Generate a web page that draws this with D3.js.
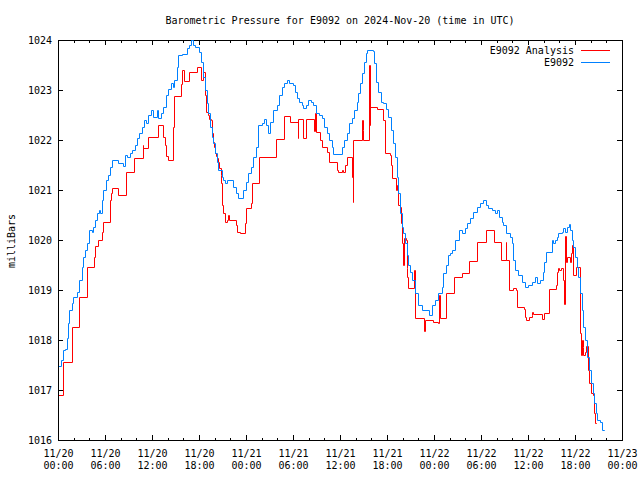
<!DOCTYPE html>
<html><head><meta charset="utf-8">
<script src="https://cdn.jsdelivr.net/npm/d3@7"></script>
<style>
body{margin:0;background:#fff}
svg{display:block}
text{font-family:"DejaVu Sans Mono","Liberation Mono",monospace;font-size:10px;fill:#000}
</style></head>
<body><svg id="c" width="640" height="480"></svg>
<script>
// ---- data (hours since 2024-11-20 00:00 UTC, pressure in mb) ----
const stationHours = [0.17,0.34,0.60,0.93,1.11,1.31,1.44,1.75,1.95,2.39,2.72,3.03,3.23,3.45,3.66,4.00,4.30,4.51,4.72,5.02,5.27,5.36,5.58,5.78,6.09,6.42,6.64,6.86,7.70,8.34,8.55,8.85,9.19,9.41,9.83,10.12,10.38,10.69,10.98,11.23,11.53,11.83,12.17,12.60,12.80,13.11,13.44,13.79,14.08,14.39,14.64,14.85,15.15,15.36,15.79,16.51,16.76,16.98,17.20,17.49,18.04,18.22,18.55,18.77,18.98,19.19,19.40,19.62,19.83,20.04,20.26,20.46,20.90,21.10,21.32,21.54,22.38,22.72,23.02,23.58,24.00,24.29,24.60,24.93,25.28,25.57,26.00,26.30,26.55,26.85,27.06,27.49,27.92,28.25,28.56,28.85,29.20,29.53,30.04,30.26,30.47,30.80,31.11,31.31,31.66,31.95,32.26,32.59,32.94,33.36,33.66,33.96,34.30,34.63,34.94,35.14,36.22,36.51,36.86,37.19,37.49,37.79,38.13,38.34,38.55,38.77,39.06,39.32,39.48,40.17,40.38,40.60,40.89,41.20,41.53,41.87,42.17,42.47,42.80,43.02,43.24,43.44,43.66,43.88,44.08,44.30,44.51,44.72,44.94,45.23,45.57,46.00,46.43,47.40,47.71,48.13,48.55,48.98,49.19,49.49,49.75,50.04,50.26,50.68,51.23,51.54,51.96,52.25,52.60,53.02,53.45,53.87,54.29,54.64,54.93,55.37,55.79,56.01,56.34,56.64,56.85,57.19,57.70,57.92,58.12,58.34,58.76,59.20,59.62,60.04,60.47,60.89,61.19,61.53,61.88,62.08,62.30,63.03,63.23,63.45,63.66,63.87,64.30,64.51,64.72,64.94,65.23,65.36,65.58,65.78,66.00,66.22,66.42,66.64,66.85,67.06,67.28,67.57,67.83,68.01,68.26,68.46,68.68,68.85,69.19,69.41,69.70];
const stationValues = [1017.48,1017.60,1017.80,1017.82,1018.04,1018.34,1018.60,1018.74,1018.86,1018.96,1019.20,1019.46,1019.66,1019.80,1019.94,1020.20,1020.16,1020.26,1020.40,1020.54,1020.60,1020.54,1020.80,1021.00,1021.20,1021.30,1021.46,1021.60,1021.54,1021.48,1021.70,1021.66,1021.74,1021.80,1021.90,1022.04,1022.14,1022.26,1022.40,1022.34,1022.50,1022.60,1022.46,1022.60,1022.44,1022.54,1022.66,1022.90,1023.02,1023.14,1023.06,1023.20,1023.46,1023.70,1023.72,1023.84,1023.90,1024.00,1023.90,1023.86,1023.76,1023.56,1023.26,1023.00,1022.74,1022.54,1022.26,1022.06,1021.94,1021.74,1021.56,1021.40,1021.26,1021.20,1021.14,1021.20,1021.06,1020.94,1020.84,1021.00,1021.16,1021.34,1021.46,1021.66,1021.86,1022.30,1022.34,1022.42,1022.30,1022.14,1022.36,1022.60,1022.70,1022.90,1023.06,1023.14,1023.20,1023.14,1023.10,1022.96,1022.84,1022.76,1022.70,1022.64,1022.70,1022.80,1022.76,1022.70,1022.54,1022.50,1022.44,1022.26,1022.14,1022.00,1021.86,1021.72,1021.86,1022.00,1022.14,1022.34,1022.44,1022.60,1022.76,1022.94,1023.14,1023.34,1023.56,1023.74,1023.80,1023.78,1023.54,1023.16,1022.96,1022.76,1022.74,1022.62,1022.46,1022.20,1021.94,1021.66,1021.26,1020.94,1020.54,1020.26,1020.14,1019.94,1019.70,1019.50,1019.36,1019.20,1018.94,1018.70,1018.60,1018.50,1018.70,1018.80,1018.94,1019.06,1019.34,1019.50,1019.70,1019.74,1019.80,1020.00,1020.20,1020.14,1020.24,1020.34,1020.44,1020.56,1020.66,1020.74,1020.80,1020.70,1020.64,1020.60,1020.54,1020.60,1020.46,1020.36,1020.30,1020.14,1020.06,1019.94,1019.60,1019.40,1019.30,1019.16,1019.06,1019.10,1019.16,1019.26,1019.14,1019.20,1019.36,1019.56,1019.76,1020.00,1019.94,1020.00,1020.06,1020.14,1020.16,1020.24,1020.16,1020.26,1020.32,1020.20,1020.00,1019.86,1019.66,1019.46,1019.26,1018.94,1018.60,1018.26,1018.00,1017.66,1017.40,1017.14,1016.94,1016.74,1016.54,1016.40,1016.36,1016.20,1016.20];

const analysisHours = [0.17,0.68,1.75,2.72,3.66,4.63,4.72,5.14,5.58,5.78,6.64,6.77,6.86,7.70,8.68,9.74,10.81,10.89,11.53,12.80,13.37,13.66,13.79,14.08,14.72,14.81,15.66,15.79,16.09,16.76,17.78,18.22,18.55,18.77,18.86,19.19,19.32,19.49,19.62,19.75,19.91,20.04,20.17,20.34,20.46,20.59,20.77,20.81,20.90,21.10,21.32,21.54,21.74,21.87,22.72,22.81,23.23,23.87,24.00,24.60,24.73,25.66,27.79,28.85,29.62,30.59,30.68,31.24,31.62,32.68,32.81,32.94,33.45,33.66,34.30,34.63,35.58,35.78,36.22,36.42,36.64,36.86,37.57,37.62,37.70,38.81,38.90,38.98,39.70,39.79,39.87,40.76,41.53,41.75,42.38,42.51,42.60,43.11,43.24,43.37,43.44,43.66,43.79,43.88,44.00,44.17,44.43,44.51,44.59,44.72,45.49,45.62,46.72,46.85,47.91,48.55,48.68,48.77,49.57,50.55,51.61,52.53,53.55,54.64,55.66,56.51,57.13,57.23,57.61,58.05,58.47,58.64,59.49,59.62,59.74,60.17,60.47,60.55,60.68,61.75,62.08,62.64,63.57,63.66,63.87,64.00,64.17,64.51,64.60,64.72,64.85,65.02,65.36,65.45,65.58,65.78,66.13,66.64,66.72,66.85,66.98,67.06,67.28,67.40,67.70,67.83,68.01,68.26,68.43,68.56,68.68];
const analysisValues = [1016.90,1017.56,1018.26,1018.86,1019.46,1019.66,1019.88,1020.00,1020.16,1020.36,1020.80,1020.94,1021.04,1020.90,1021.36,1021.64,1021.90,1021.84,1022.06,1022.30,1022.06,1021.90,1021.68,1021.60,1022.26,1022.88,1023.12,1023.40,1023.18,1023.36,1023.46,1023.20,1023.36,1022.90,1022.56,1022.50,1022.42,1022.40,1022.14,1021.96,1021.86,1021.74,1021.68,1021.64,1021.56,1021.44,1021.30,1021.14,1020.70,1020.54,1020.36,1020.40,1020.50,1020.40,1020.30,1020.16,1020.14,1020.34,1020.64,1020.74,1021.14,1021.66,1022.02,1022.48,1022.36,1022.04,1022.42,1022.04,1022.42,1022.18,1022.54,1022.16,1022.00,1021.86,1021.76,1021.56,1021.40,1021.36,1021.40,1021.36,1021.50,1021.66,1021.26,1020.76,1022.00,1022.40,1022.20,1022.00,1023.50,1022.30,1022.66,1022.62,1022.40,1021.74,1021.70,1021.50,1021.24,1021.00,1021.10,1021.04,1020.70,1020.66,1020.34,1019.94,1019.50,1020.04,1020.00,1019.44,1019.26,1019.04,1019.40,1018.44,1018.18,1018.40,1018.36,1018.34,1018.90,1018.44,1018.94,1019.26,1019.34,1019.58,1019.96,1020.20,1019.96,1019.60,1019.96,1019.60,1019.00,1019.04,1019.00,1018.66,1018.62,1018.46,1018.40,1018.46,1018.50,1018.56,1018.52,1018.42,1018.54,1019.02,1019.10,1019.36,1019.44,1019.40,1019.44,1019.20,1018.72,1020.08,1019.56,1019.66,1019.56,1019.74,1019.90,1019.30,1019.46,1018.14,1017.70,1018.00,1017.86,1017.70,1017.76,1017.88,1017.40,1017.14,1016.94,1016.90,1016.54,1016.34,1016.34];

const yTicks = [1016,1017,1018,1019,1020,1021,1022,1023,1024];
const xTickDates = ["11/20","11/20","11/20","11/20","11/21","11/21","11/21","11/21","11/22","11/22","11/22","11/22","11/23"];
const xTickTimes = ["00:00","06:00","12:00","18:00","00:00","06:00","12:00","18:00","00:00","06:00","12:00","18:00","00:00"];
const seriesNames = ["E9092 Analysis","E9092"];
const seriesColors = ["#ff0000","#0080ff"];
const titleText = "Barometric Pressure for E9092 on 2024-Nov-20 (time in UTC)";
const yLabel = "milliBars";

// ---- layout ----
const L = 58, R = 622, T = 40, B = 440;
const t0 = Date.UTC(2024, 10, 20);
const toDate = h => new Date(t0 + h * 3600e3);

const x = d3.scaleUtc().domain([toDate(0), toDate(72)]).range([L, R]);
const y = d3.scaleLinear().domain([1016, 1024]).range([B, T]);

const svg = d3.select("#c");
svg.append("rect").attr("width", 640).attr("height", 480).attr("fill", "#fff");

function styleAxis(g) {
  g.select(".domain").remove();
  g.selectAll("line").attr("stroke", "#000").attr("shape-rendering", "crispEdges");
  g.attr("font-family", null).attr("font-size", null);
}

// minor x ticks (every 2 h) bottom and top
svg.append("g").attr("transform", `translate(0,${B})`)
  .call(d3.axisBottom(x).ticks(d3.utcHour.every(2)).tickSize(-2.5).tickFormat(""))
  .call(styleAxis);
svg.append("g").attr("transform", `translate(0,${T})`)
  .call(d3.axisTop(x).ticks(d3.utcHour.every(2)).tickSize(-2.5).tickFormat(""))
  .call(styleAxis);
// major x ticks (every 6 h)
const xMajor = x.ticks(d3.utcHour.every(6));
svg.append("g").attr("transform", `translate(0,${B})`)
  .call(d3.axisBottom(x).tickValues(xMajor).tickSize(-5).tickFormat(""))
  .call(styleAxis);
svg.append("g").attr("transform", `translate(0,${T})`)
  .call(d3.axisTop(x).tickValues(xMajor).tickSize(-5).tickFormat(""))
  .call(styleAxis);

// y axis left with labels, right mirror
svg.append("g").attr("transform", `translate(${L},0)`)
  .call(d3.axisLeft(y).tickValues(yTicks).tickSize(-5).tickPadding(6).tickFormat(d3.format("d")))
  .call(styleAxis)
  .call(g => g.selectAll("text").attr("fill", "#000"));
svg.append("g").attr("transform", `translate(${R},0)`)
  .call(d3.axisRight(y).tickValues(yTicks).tickSize(-5).tickFormat(""))
  .call(styleAxis);

// x tick labels (two lines)
const xl = svg.append("g");
xMajor.forEach((d, i) => {
  const t = xl.append("text").attr("text-anchor", "middle");
  t.append("tspan").attr("x", x(d) + 0.5).attr("y", 457).text(xTickDates[i]);
  t.append("tspan").attr("x", x(d) + 0.5).attr("y", 469).text(xTickTimes[i]);
});

// border
svg.append("rect").attr("x", L + 0.5).attr("y", T + 0.5)
  .attr("width", R - L).attr("height", B - T)
  .attr("fill", "none").attr("stroke", "#000").attr("shape-rendering", "crispEdges");

// lines (snapped to pixel centres)
svg.append("clipPath").attr("id", "pc").append("rect")
  .attr("x", L).attr("y", T - 1).attr("width", R - L + 1).attr("height", B - T + 2);
const line = d3.line().curve(d3.curveStepAfter)
  .x(d => Math.round(x(toDate(d[0]))) + 0.5)
  .y(d => Math.round(y(d[1])) + 0.5);
const analysis = analysisHours.map((h, i) => [h, analysisValues[i]]);
const station = stationHours.map((h, i) => [h, stationValues[i]]);
const pg = svg.append("g").attr("clip-path", "url(#pc)");
pg.append("path").datum(analysis).attr("d", line)
  .attr("fill", "none").attr("stroke", seriesColors[0]).attr("stroke-width", 1)
  .attr("stroke-linejoin", "miter").attr("stroke-linecap", "square");
pg.append("path").datum(station).attr("d", line)
  .attr("fill", "none").attr("stroke", seriesColors[1]).attr("stroke-width", 1)
  .attr("stroke-linejoin", "miter").attr("stroke-linecap", "square");

// legend
seriesNames.forEach((n, i) => {
  const ly = 50 + i * 12;
  svg.append("text").attr("x", 574).attr("y", ly + 3.5).attr("text-anchor", "end").text(n);
  svg.append("line").attr("x1", 581).attr("x2", 610).attr("y1", ly + 0.5).attr("y2", ly + 0.5)
    .attr("stroke", seriesColors[i]).attr("stroke-width", 1).attr("shape-rendering", "crispEdges");
});

// title and y label
svg.append("text").attr("x", 340).attr("y", 24).attr("text-anchor", "middle").text(titleText);
svg.append("text").attr("transform", "translate(15,241) rotate(-90)").attr("text-anchor", "middle").text(yLabel);
</script></body></html>
